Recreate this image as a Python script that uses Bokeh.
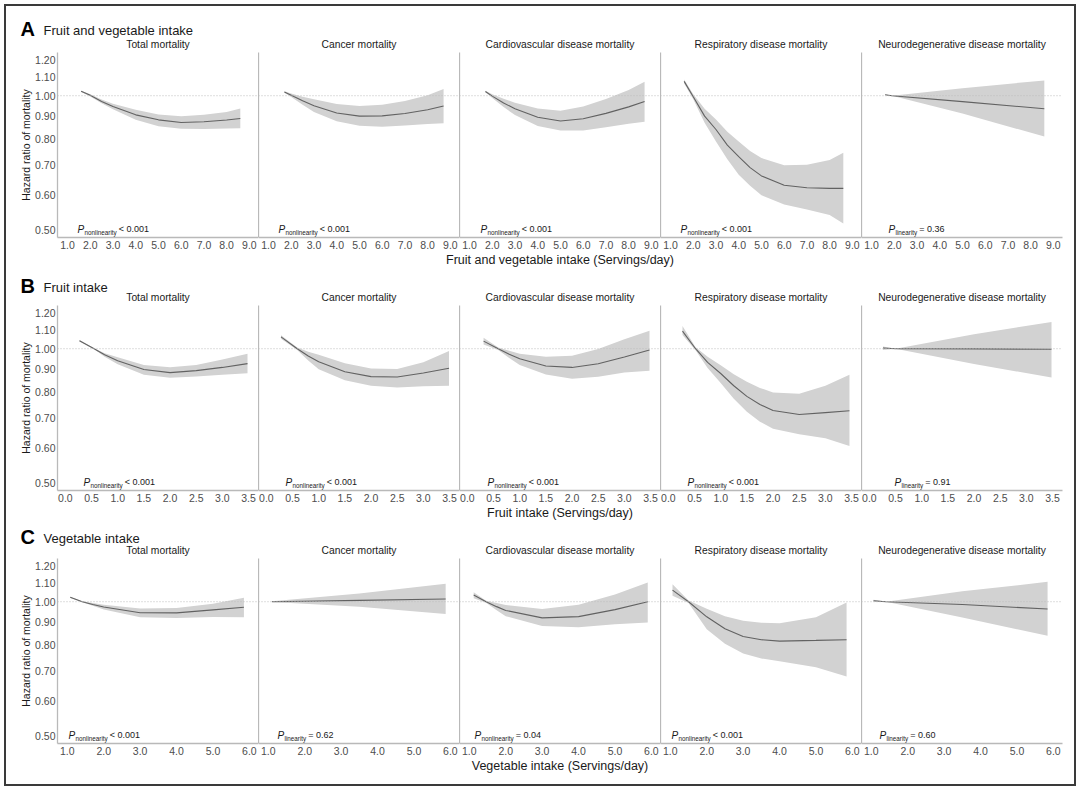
import math
from bokeh.plotting import figure
from bokeh.layouts import column, row, Spacer
from bokeh.models import ColumnDataSource, Span, Label, FixedTicker, NumeralTickFormatter, Range1d
from bokeh.embed import file_html
from bokeh.resources import INLINE

# ---------------- data ----------------
Y_TICKS = [0.5, 0.6, 0.7, 0.8, 0.9, 1.0, 1.1, 1.2]
REF_HR = 1.0
OUTCOMES = ["Total mortality", "Cancer mortality", "Cardiovascular disease mortality",
            "Respiratory disease mortality", "Neurodegenerative disease mortality"]
SECTION_LETTERS = ["A", "B", "C"]
SECTION_TITLES = ["Fruit and vegetable intake", "Fruit intake", "Vegetable intake"]
X_LABELS = ["Fruit and vegetable intake (Servings/day)", "Fruit intake (Servings/day)",
            "Vegetable intake (Servings/day)"]
X_TICKS_FV = [1.0, 2.0, 3.0, 4.0, 5.0, 6.0, 7.0, 8.0, 9.0]
X_TICKS_FRUIT = [0.0, 0.5, 1.0, 1.5, 2.0, 2.5, 3.0, 3.5]
X_TICKS_VEG = [1.0, 2.0, 3.0, 4.0, 5.0, 6.0]

# A: fruit and vegetable intake
fv_total_x = [1.6, 2.0, 2.5, 3.0, 4.0, 5.0, 6.0, 7.0, 8.0, 8.6]
fv_total_hr = [1.023, 1.002, 0.971, 0.946, 0.906, 0.883, 0.871, 0.874, 0.882, 0.889]
fv_total_lo = [1.020, 0.996, 0.962, 0.933, 0.883, 0.854, 0.843, 0.842, 0.844, 0.845]
fv_total_hi = [1.026, 1.008, 0.981, 0.960, 0.930, 0.908, 0.899, 0.906, 0.920, 0.936]

fv_cancer_x = [1.7, 2.0, 2.5, 3.0, 4.0, 5.0, 6.0, 7.0, 8.0, 8.7]
fv_cancer_hr = [1.020, 1.003, 0.974, 0.950, 0.915, 0.900, 0.901, 0.912, 0.930, 0.948]
fv_cancer_lo = [1.016, 0.994, 0.954, 0.920, 0.876, 0.856, 0.852, 0.857, 0.864, 0.868]
fv_cancer_hi = [1.024, 1.012, 0.995, 0.982, 0.958, 0.948, 0.955, 0.973, 1.003, 1.035]

fv_cvd_x = [1.7, 2.0, 2.5, 3.0, 4.0, 5.0, 6.0, 7.0, 8.0, 8.7]
fv_cvd_hr = [1.022, 0.998, 0.963, 0.935, 0.895, 0.878, 0.888, 0.913, 0.944, 0.971]
fv_cvd_lo = [1.018, 0.988, 0.943, 0.905, 0.855, 0.836, 0.836, 0.850, 0.865, 0.874]
fv_cvd_hi = [1.026, 1.008, 0.985, 0.965, 0.936, 0.925, 0.946, 0.983, 1.030, 1.075]

fv_resp_x = [1.6, 2.0, 2.5, 3.0, 3.5, 4.0, 4.5, 5.0, 6.0, 7.0, 8.0, 8.6]
fv_resp_hr = [1.077, 0.995, 0.900, 0.840, 0.775, 0.730, 0.690, 0.661, 0.630, 0.622, 0.620, 0.620]
fv_resp_lo = [1.065, 0.982, 0.870, 0.790, 0.720, 0.665, 0.628, 0.598, 0.570, 0.556, 0.540, 0.517]
fv_resp_hi = [1.088, 1.008, 0.935, 0.885, 0.830, 0.790, 0.752, 0.725, 0.698, 0.700, 0.718, 0.745]

fv_neuro_x = [1.6, 1.9, 5.0, 8.6]
fv_neuro_hr = [1.005, 1.000, 0.970, 0.935]
fv_neuro_lo = [1.002, 1.000, 0.912, 0.810]
fv_neuro_hi = [1.008, 1.000, 1.040, 1.082]

# B: fruit intake
fr_total_x = [0.27, 0.55, 0.75, 1.0, 1.5, 2.0, 2.5, 3.0, 3.48]
fr_total_hr = [1.042, 1.000, 0.969, 0.940, 0.898, 0.884, 0.893, 0.908, 0.926]
fr_total_lo = [1.038, 0.997, 0.960, 0.923, 0.874, 0.861, 0.866, 0.874, 0.881]
fr_total_hi = [1.046, 1.003, 0.977, 0.957, 0.920, 0.909, 0.919, 0.946, 0.975]

fr_cancer_x = [0.28, 0.59, 0.8, 1.0, 1.5, 2.0, 2.5, 3.0, 3.49]
fr_cancer_hr = [1.063, 1.000, 0.963, 0.935, 0.888, 0.866, 0.864, 0.882, 0.904]
fr_cancer_lo = [1.053, 0.994, 0.941, 0.900, 0.850, 0.826, 0.819, 0.824, 0.826]
fr_cancer_hi = [1.072, 1.006, 0.985, 0.970, 0.928, 0.903, 0.901, 0.932, 0.988]

fr_cvd_x = [0.31, 0.59, 0.8, 1.0, 1.5, 2.0, 2.5, 3.0, 3.48]
fr_cvd_hr = [1.040, 1.000, 0.972, 0.950, 0.915, 0.908, 0.925, 0.958, 0.993]
fr_cvd_lo = [1.022, 0.994, 0.953, 0.920, 0.875, 0.856, 0.865, 0.884, 0.893]
fr_cvd_hi = [1.058, 1.006, 0.989, 0.975, 0.960, 0.965, 0.998, 1.050, 1.097]

fr_resp_x = [0.27, 0.52, 0.75, 1.0, 1.25, 1.5, 1.75, 2.0, 2.5, 3.0, 3.46]
fr_resp_hr = [1.095, 1.000, 0.932, 0.880, 0.826, 0.782, 0.750, 0.727, 0.712, 0.719, 0.726]
fr_resp_lo = [1.073, 0.992, 0.905, 0.838, 0.772, 0.722, 0.686, 0.662, 0.643, 0.630, 0.605]
fr_resp_hi = [1.125, 1.008, 0.960, 0.918, 0.876, 0.843, 0.817, 0.798, 0.793, 0.826, 0.874]

fr_neuro_x = [0.26, 0.5, 2.0, 3.48]
fr_neuro_hr = [1.004, 1.000, 0.999, 0.997]
fr_neuro_lo = [0.994, 1.000, 0.924, 0.862]
fr_neuro_hi = [1.012, 1.000, 1.078, 1.148]

# C: vegetable intake
vg_total_x = [1.08, 1.41, 1.7, 2.0, 3.0, 4.0, 5.0, 5.85]
vg_total_hr = [1.023, 1.000, 0.986, 0.973, 0.945, 0.944, 0.959, 0.972]
vg_total_lo = [1.020, 0.997, 0.979, 0.961, 0.923, 0.919, 0.924, 0.923]
vg_total_hi = [1.026, 1.003, 0.994, 0.985, 0.966, 0.968, 0.990, 1.021]

vg_cancer_x = [1.1, 3.5, 5.87]
vg_cancer_hr = [1.000, 1.007, 1.014]
vg_cancer_lo = [0.998, 0.975, 0.939]
vg_cancer_hi = [1.002, 1.044, 1.097]

vg_cvd_x = [1.12, 1.46, 1.75, 2.0, 3.0, 4.0, 5.0, 5.9]
vg_cvd_hr = [1.035, 1.000, 0.975, 0.956, 0.920, 0.926, 0.960, 1.000]
vg_cvd_lo = [1.018, 0.995, 0.957, 0.928, 0.882, 0.876, 0.890, 0.898]
vg_cvd_hi = [1.050, 1.005, 0.993, 0.983, 0.963, 0.985, 1.038, 1.105]

vg_resp_x = [1.06, 1.5, 2.0, 2.5, 3.0, 3.5, 4.0, 5.0, 5.84]
vg_resp_hr = [1.062, 1.000, 0.925, 0.870, 0.836, 0.822, 0.816, 0.819, 0.822]
vg_resp_lo = [1.031, 0.994, 0.868, 0.805, 0.765, 0.746, 0.735, 0.713, 0.680]
vg_resp_hi = [1.095, 1.006, 0.965, 0.928, 0.906, 0.897, 0.895, 0.923, 0.996]

vg_neuro_x = [1.06, 1.4, 3.5, 5.84]
vg_neuro_hr = [1.005, 1.000, 0.986, 0.963]
vg_neuro_lo = [1.000, 1.000, 0.922, 0.839]
vg_neuro_hi = [1.010, 1.000, 1.055, 1.108]

P_SUB_FV = ["nonlinearity", "nonlinearity", "nonlinearity", "nonlinearity", "linearity"]
P_VAL_FV = ["< 0.001", "< 0.001", "< 0.001", "< 0.001", "= 0.36"]
P_SUB_FR = ["nonlinearity", "nonlinearity", "nonlinearity", "nonlinearity", "linearity"]
P_VAL_FR = ["< 0.001", "< 0.001", "< 0.001", "< 0.001", "= 0.91"]
P_SUB_VG = ["nonlinearity", "linearity", "nonlinearity", "nonlinearity", "linearity"]
P_VAL_VG = ["< 0.001", "= 0.62", "= 0.04", "< 0.001", "= 0.60"]

SECTIONS = [
    dict(ticks=X_TICKS_FV, p_sub=P_SUB_FV, p_val=P_VAL_FV, panels=[
        (fv_total_x, fv_total_hr, fv_total_lo, fv_total_hi),
        (fv_cancer_x, fv_cancer_hr, fv_cancer_lo, fv_cancer_hi),
        (fv_cvd_x, fv_cvd_hr, fv_cvd_lo, fv_cvd_hi),
        (fv_resp_x, fv_resp_hr, fv_resp_lo, fv_resp_hi),
        (fv_neuro_x, fv_neuro_hr, fv_neuro_lo, fv_neuro_hi)]),
    dict(ticks=X_TICKS_FRUIT, p_sub=P_SUB_FR, p_val=P_VAL_FR, panels=[
        (fr_total_x, fr_total_hr, fr_total_lo, fr_total_hi),
        (fr_cancer_x, fr_cancer_hr, fr_cancer_lo, fr_cancer_hi),
        (fr_cvd_x, fr_cvd_hr, fr_cvd_lo, fr_cvd_hi),
        (fr_resp_x, fr_resp_hr, fr_resp_lo, fr_resp_hi),
        (fr_neuro_x, fr_neuro_hr, fr_neuro_lo, fr_neuro_hi)]),
    dict(ticks=X_TICKS_VEG, p_sub=P_SUB_VG, p_val=P_VAL_VG, panels=[
        (vg_total_x, vg_total_hr, vg_total_lo, vg_total_hi),
        (vg_cancer_x, vg_cancer_hr, vg_cancer_lo, vg_cancer_hi),
        (vg_cvd_x, vg_cvd_hr, vg_cvd_lo, vg_cvd_hi),
        (vg_resp_x, vg_resp_hr, vg_resp_lo, vg_resp_hi),
        (vg_neuro_x, vg_neuro_hr, vg_neuro_lo, vg_neuro_hi)]),
]

# ---------------- layout / style ----------------
FONT = "Liberation Sans"
X_RANGES = [(0.56, 9.4), (-0.15, 3.69), (0.73, 6.25)]
Y_RANGE = (0.481, 1.25)
LEFT_W = 51
PANEL_W = 201
RIGHT_PAD = 12
PANEL_H = 202
XAXIS_H = 17
HEADER_H = [46, 38, 38]
LETTER_BASE = [17, 13, 15]
XLAB_H = 13
BOTTOM_PAD = 11
INNER_W = LEFT_W + 5 * PANEL_W + RIGHT_PAD
P_OFFSETS = [[20, 20, 21, 20, 27], [26, 27, 28, 27, 33], [11, 19, 15, 11, 18]]
MID = 0.35  # distance (em) from baseline to the 'middle' anchor

AXIS_COL = "#b9b9b9"
TICK_COL = "#4d4d4d"
TEXT_COL = "#1a1a1a"
BAND_COL = "#d2d2d2"
LINE_COL = "#626262"
REF_COL = "#bdbdbd"

CHAR_W = {'a': 556, 'e': 556, 'i': 222, 'l': 222, 'n': 556, 'o': 556, 'r': 333,
          't': 278, 'y': 500, ' ': 278}


def text_w(s, size):
    return sum(CHAR_W.get(c, 556) for c in s) * size / 1000.0


def strip(h):
    p = figure(width=INNER_W, height=h, x_range=Range1d(0, INNER_W), y_range=Range1d(0, h),
               x_axis_location=None, y_axis_location=None, output_backend="svg",
               toolbar_location=None, min_border=0)
    p.outline_line_color = None
    for g in p.grid:
        g.visible = False
    p.background_fill_color = "white"
    p.border_fill_color = "white"
    return p


def header(si):
    h = HEADER_H[si]
    p = strip(h)
    b = LETTER_BASE[si]
    p.add_layout(Label(x=14, y=b + MID * 20, text=SECTION_LETTERS[si], text_font=FONT,
                       text_font_style="bold", text_font_size="20px", text_color="black",
                       text_baseline="middle"))
    p.add_layout(Label(x=37, y=b + MID * 13, text=SECTION_TITLES[si], text_font=FONT,
                       text_font_size="13px", text_color=TEXT_COL, text_baseline="middle"))
    for k, name in enumerate(OUTCOMES):
        p.add_layout(Label(x=LEFT_W + k * PANEL_W + PANEL_W / 2, y=4 + MID * 10.3, text=name,
                           text_font=FONT, text_font_size="10.3px", text_color=TEXT_COL,
                           text_align="center", text_baseline="middle"))
    return p


def xlabel_strip(si):
    p = strip(XLAB_H)
    p.add_layout(Label(x=LEFT_W + 2 * PANEL_W + PANEL_W / 2, y=3.5 + MID * 12.5, text=X_LABELS[si],
                       text_font=FONT, text_font_size="12.5px", text_color=TEXT_COL,
                       text_align="center", text_baseline="middle"))
    return p


def panel(si, k):
    sec = SECTIONS[si]
    first, last = k == 0, k == 4
    w = PANEL_W + (LEFT_W if first else 0) + (RIGHT_PAD if last else 0)
    xr = X_RANGES[si]
    p = figure(width=w, height=PANEL_H, x_range=Range1d(*xr), y_range=Range1d(*Y_RANGE),
               y_axis_type="log", output_backend="svg", toolbar_location=None,
               min_border_left=LEFT_W if first else 0, min_border_right=RIGHT_PAD if last else 0,
               min_border_top=0, min_border_bottom=XAXIS_H)
    p.outline_line_color = None
    p.grid.visible = False
    p.background_fill_color = "white"
    p.border_fill_color = "white"

    xa = p.xaxis[0]
    xa.ticker = FixedTicker(ticks=sec["ticks"])
    xa.formatter = NumeralTickFormatter(format="0.0")
    xa.axis_line_color = AXIS_COL
    xa.axis_line_width = 1.3
    xa.major_tick_line_color = None
    xa.minor_tick_line_color = None
    xa.major_tick_out = 0
    xa.major_tick_in = 0
    xa.major_label_standoff = 3
    xa.major_label_text_font = FONT
    xa.major_label_text_font_size = "10.5px"
    xa.major_label_text_color = TICK_COL

    ya = p.yaxis[0]
    ya.axis_line_color = AXIS_COL
    ya.axis_line_width = 1.3
    ya.major_tick_line_color = None
    ya.minor_tick_line_color = None
    ya.major_tick_out = 0
    ya.major_tick_in = 0
    if first:
        ya.ticker = FixedTicker(ticks=Y_TICKS)
        ya.formatter = NumeralTickFormatter(format="0.00")
        ya.major_label_standoff = 2
        ya.major_label_text_font = FONT
        ya.major_label_text_font_size = "10.5px"
        ya.major_label_text_color = TICK_COL
        ya.axis_label = "Hazard ratio of mortality"
        ya.axis_label_standoff = 0
        ya.axis_label_text_font = FONT
        ya.axis_label_text_font_size = "10.5px"
        ya.axis_label_text_font_style = "normal"
        ya.axis_label_text_color = TEXT_COL
    else:
        ya.ticker = FixedTicker(ticks=[])
        ya.major_label_standoff = 0

    xs, hr, lo, hi = sec["panels"][k]
    src = ColumnDataSource(dict(x=xs, hr=hr, lo=lo, hi=hi))
    p.varea(x="x", y1="lo", y2="hi", source=src, fill_color=BAND_COL, fill_alpha=1.0)
    p.line(x="x", y="hr", source=src, line_color=LINE_COL, line_width=1.1)
    p.add_layout(Span(location=REF_HR, dimension="width", line_color=REF_COL,
                      line_dash="1 2", line_width=1))

    off = P_OFFSETS[si][k]
    sub = sec["p_sub"][k]
    val = sec["p_val"][k]
    base = 5
    common = dict(x=xr[0], y=Y_RANGE[0], text_font=FONT, text_color=TEXT_COL,
                  text_baseline="middle", text_align="left")
    p.add_layout(Label(x_offset=off, y_offset=base + MID * 10, text="P", text_font_style="italic",
                       text_font_size="10px", **common))
    p.add_layout(Label(x_offset=off + 7, y_offset=base - 2 + MID * 6.3, text=sub,
                       text_font_size="6.3px", **common))
    p.add_layout(Label(x_offset=off + 7 + text_w(sub, 6.3) + 2, y_offset=base + MID * 9, text=val,
                       text_font_size="9px", **common))
    return p


blocks = []
for si in range(3):
    blocks.append(header(si))
    blocks.append(row([panel(si, k) for k in range(5)], spacing=0))
    blocks.append(xlabel_strip(si))
blocks.append(Spacer(width=INNER_W, height=BOTTOM_PAD))

layout = column(blocks, spacing=0,
                styles={"border": "2px solid #3a3a3a", "background-color": "white", "margin": "4px"})

with open("out.html", "w") as f:
    f.write(file_html(layout, INLINE))
